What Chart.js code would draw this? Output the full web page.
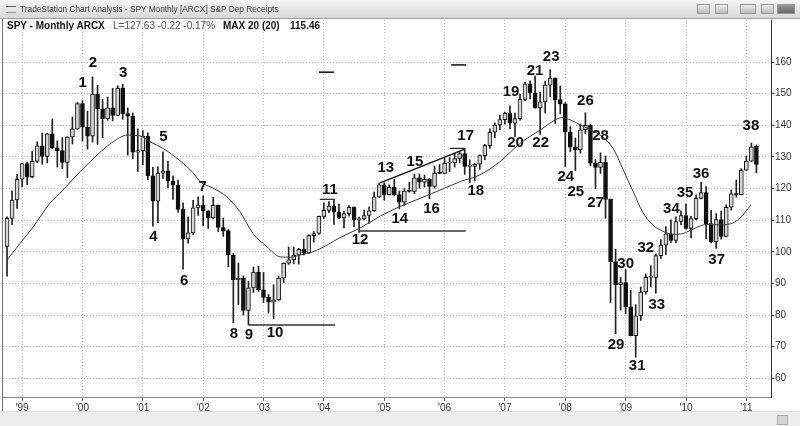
<!DOCTYPE html>
<html>
<head>
<meta charset="utf-8">
<script src="https://cdn.jsdelivr.net/npm/chart.js@4.4.1/dist/chart.umd.min.js"></script>
<style>
body { margin: 0; background: #fff; }
#wrap { position: relative; width: 800px; height: 426px; overflow: hidden; font-family: "Liberation Sans", Arial, sans-serif; }
#c { position: absolute; left: 0; top: 0; }
#titlebar { position: absolute; left: 0; top: 0; width: 800px; height: 18px; background: linear-gradient(#f5f5f5, #d8d8d8); border-bottom: 1px solid #a0a0a0; }
#titlebar .txt { position: absolute; left: 20px; top: 0; line-height: 18px; font-size: 8.3px; color: #333; }
#titlebar .ico { position: absolute; left: 6px; top: 6px; width: 10px; height: 5px; border-top: 1px solid #666; border-bottom: 1px solid #999; }
.btn { position: absolute; top: 4px; height: 10px; background: linear-gradient(#eee, #bbb); border: 1px solid #999; box-sizing: border-box; }
#legend span { position: absolute; top: 19px; line-height: 13px; font-size: 10px; color: #111; white-space: nowrap; }
#legend .b { font-weight: bold; }
#legend .r { color: #555; }
#leftedge { position: absolute; left: 2px; top: 19px; width: 1px; height: 392px; background: #777; }
#bottom { position: absolute; left: 0; top: 411px; width: 800px; height: 15px; background: #ededed; border-top: 1px solid #dcdcdc; }
#bottom .sb { position: absolute; left: 777px; top: 3px; width: 9px; height: 8px; background: #d6d6d6; border: 1px solid #aaa; }
</style>
</head>
<body>
<div id="wrap">
  <canvas id="c" width="800" height="426"></canvas>
  <div id="titlebar">
    <div class="ico"></div>
    <div class="txt">TradeStation Chart Analysis - SPY Monthly [ARCX] S&amp;P Dep Receipts</div>
    <div class="btn" style="left:697px;width:13px"></div>
    <div class="btn" style="left:715px;width:13px"></div>
    <div class="btn" style="left:740px;width:16px"></div>
    <div class="btn" style="left:761px;width:13px"></div>
    <div class="btn" style="left:777px;width:18px;background:linear-gradient(#999,#666)"></div>
  </div>
  <div id="legend">
    <span class="b" style="left:7px">SPY - Monthly ARCX</span>
    <span class="r" style="left:113px">L=127.63 -0.22 -0.17%</span>
    <span class="b" style="left:223px">MAX 20 (20)</span>
    <span class="b" style="left:290px">115.46</span>
  </div>
  <div id="leftedge"></div>
  <div id="bottom"><div class="sb"></div></div>
</div>
<script>
// SPY monthly bars, Oct 1998 .. Mar 2011 (index 0 = Oct 1998)
var opens = [101.7,110.6,116.4,123.0,127.9,123.8,128.6,133.5,130.2,137.3,
132.9,132.0,128.3,136.3,138.9,146.9,139.4,136.6,149.9,145.2,
142.1,145.5,143.1,151.8,143.7,142.9,131.5,132.0,136.6,124.0,
116.0,124.9,125.6,122.4,121.1,113.4,104.1,106.0,113.9,114.8,
113.0,110.7,114.7,107.7,106.7,99.0,91.2,91.6,81.5,88.6,
93.6,88.0,85.6,84.1,84.8,91.7,96.4,97.5,99.0,100.8,
99.6,105.1,105.8,111.2,113.1,114.5,112.6,110.7,112.1,114.1,
110.2,110.4,111.5,113.0,117.4,121.2,118.1,120.4,118.1,115.7,
119.2,119.1,123.4,122.0,122.9,120.7,124.9,124.8,128.0,128.1,
129.5,131.1,127.0,127.0,127.7,130.4,133.6,137.8,140.1,141.8,
143.8,140.7,142.1,148.2,153.1,150.3,145.5,147.4,152.7,154.9,
148.1,146.8,137.9,133.1,132.3,138.6,140.0,128.0,126.7,128.3,
116.6,96.9,89.6,90.3,82.6,73.5,79.8,87.3,91.9,91.9,
98.8,102.1,105.7,103.6,109.6,111.5,107.4,110.5,116.9,118.7,
108.9,103.1,110.2,104.9,114.1,118.3,118.1,125.8,128.7,133.4];

var highs = [111.1,119.3,124.5,128.0,128.4,131.7,134.8,137.6,137.5,142.0,
135.1,136.1,136.4,142.6,147.3,147.8,144.5,155.3,152.7,148.2,
148.9,151.7,152.5,153.0,145.5,143.9,138.9,138.3,137.6,126.7,
126.9,131.6,128.7,124.0,122.6,115.5,111.1,116.3,117.4,117.7,
113.0,117.3,114.8,110.7,107.1,99.5,96.5,92.4,90.7,95.2,
95.4,93.5,86.5,89.6,92.4,96.5,101.5,101.5,101.1,104.0,
105.4,106.4,111.3,115.5,115.9,116.3,115.1,112.8,114.6,114.2,
111.0,113.2,114.2,118.9,121.7,121.8,121.2,122.9,119.2,120.0,
122.0,124.5,124.6,124.3,123.3,127.1,127.6,129.5,129.8,131.1,
131.8,132.7,129.1,128.0,130.7,134.0,138.9,140.8,143.2,144.2,
146.2,143.9,149.8,153.6,154.1,155.6,150.4,153.9,157.6,155.0,
152.4,147.2,139.6,136.0,140.4,144.0,140.4,129.2,131.3,130.3,
116.7,100.8,91.9,94.4,87.8,83.3,88.9,93.0,95.6,99.3,
103.9,108.0,110.1,111.1,113.0,115.1,111.2,118.0,122.0,120.6,
113.1,112.1,112.9,114.9,119.6,122.7,126.3,130.3,134.4,133.8];

var lows = [92.3,108.6,113.7,120.6,121.2,123.4,128.2,127.7,128.1,132.6,
126.8,126.3,123.4,134.1,138.7,135.0,132.5,134.7,133.9,136.1,
141.6,141.4,143.0,141.9,130.6,129.5,125.4,127.5,122.8,108.1,
109.2,123.2,120.3,116.6,112.5,94.5,102.7,105.4,111.5,108.2,
107.4,110.4,106.4,104.9,95.3,77.6,83.3,80.0,76.9,87.2,
87.5,84.0,80.6,78.9,84.6,90.3,96.0,96.2,96.1,99.0,
99.5,103.1,105.5,110.5,112.4,108.7,110.5,107.6,111.3,107.9,
106.1,110.1,109.0,112.8,117.2,116.4,118.0,117.7,113.6,114.6,
118.8,118.4,120.1,120.5,116.8,120.1,124.7,124.6,125.4,126.8,
128.1,124.5,121.9,122.5,126.1,129.1,132.7,136.1,138.6,140.4,
138.9,136.4,141.6,147.7,148.4,145.4,137.1,143.9,149.0,140.6,
143.6,127.0,131.7,125.7,131.2,137.3,127.2,120.0,124.8,110.6,
84.0,74.1,81.6,80.4,73.4,66.7,78.3,86.6,88.9,86.9,
97.9,99.2,102.9,102.9,108.6,107.2,104.5,110.1,116.7,104.1,
102.8,101.1,104.0,104.8,113.2,117.3,118.0,125.7,128.6,125.0];

var closes = [110.6,116.4,122.9,127.9,123.8,128.6,133.5,130.2,137.3,132.9,
132.0,128.3,136.3,138.9,146.9,139.4,136.6,149.9,145.2,142.1,
145.5,143.1,151.8,143.7,142.9,131.5,132.0,136.6,124.0,116.0,
124.9,125.6,122.4,121.1,113.4,104.1,106.0,113.9,114.8,113.0,
110.7,114.7,107.7,106.7,99.0,91.2,91.6,81.5,88.6,93.6,
88.0,85.6,84.1,84.8,91.7,96.4,97.5,99.0,100.8,99.6,
105.1,105.8,111.2,113.1,114.5,112.6,110.7,112.1,114.1,110.2,
110.4,111.5,113.0,117.4,121.2,118.1,120.4,118.1,115.7,119.2,
119.1,123.4,122.0,122.9,120.7,124.9,124.8,128.0,128.1,129.5,
131.1,127.0,127.0,127.7,130.4,133.6,137.8,140.1,141.8,143.8,
140.7,142.1,148.2,153.1,150.3,145.5,147.4,152.7,154.9,148.1,
146.8,137.9,133.1,132.3,138.6,140.0,128.0,126.7,128.3,116.6,
96.9,89.6,90.3,82.6,73.5,79.8,87.3,91.9,91.9,98.8,
102.1,105.7,103.6,109.6,111.5,107.4,110.5,116.9,118.7,108.9,
103.1,110.2,104.9,114.1,118.3,118.1,125.8,128.7,133.2,127.6];

// 20 bar average (bar index, price)
var maIdx = [0,2.6,5.2,8.5,11.1,14.5,17.9,21.1,23.9,26.4,28.4,31,34.4,37,38.4,41,43.7,46.3,48.9,51.7,
54.3,56.3,58.3,60.8,63.6,66.2,70.2,74.2,78.1,82.1,86.1,90.1,94,98,102,106,109,110.3,112,114,
115.9,118.5,120.5,122.5,124.5,126.4,128.4,130.4,132.4,134.4,136.4,139.2,141.7,143.7,145.7,147.9];
var maVal = [97.4,102.7,107.9,115.3,119.5,125.3,130.6,134.8,136.9,136.7,134.8,132.7,128.8,125,122.2,120.1,117.4,112.7,105.8,101.6,
98.4,98.3,99,100,102.1,104.5,107.5,111.3,114.3,116.9,119.5,122.2,124.3,128.5,134.3,138.5,141.7,142.4,141.7,140.1,
138.7,136.2,132.7,126,119,112.5,108.5,106.5,105.5,105.8,107.2,108.7,108.5,108.8,110.6,114.8];

// x axis: year labels at the January bars
var yearIdx = [3,15,27,39,51,63,75,87,99,111,123,135,147];
var yearLabels = ["'99","'00","'01","'02","'03","'04","'05","'06","'07","'08","'09","'10","'11"];
var priceTicks = [60,70,80,90,100,110,120,130,140,150,160];

// wave count labels (bar index, price)
var waveNames = ['1','2','3','4','5','6','7','8','9','10','11','12','13','14','15','16','17','18','19',
'20','21','22','23','24','25','26','27','28','29','30','31','32','33','34','35','36','37','38'];
var waveIdx = [15.05,17.1,23.1,29.1,31.1,35.2,38.9,45.1,48.1,53.3,64.2,70.2,75.3,78.1,81.1,84.4,91.2,93.2,100.2,
101.1,105.0,106.1,108.2,111.1,113.1,115.0,117.0,118.0,121.1,123.0,125.3,127.0,129.2,132.1,134.8,138.0,141.1,147.9];
var wavePrice = [153.5,159.8,156.7,104.6,136.4,90.9,120.4,74.2,73.7,74.5,119.5,103.9,126.6,110.4,128.5,113.7,136.6,119.3,150.6,
134.5,157.3,134.5,161.5,123.7,119.0,147.7,115.5,136.6,70.5,96.1,64.0,101.4,83.2,113.5,118.5,124.8,97.6,139.8];

// drawn support / trend lines (bar index, price)
var line9 = [[48, 76.9], [65.2, 76.9]];
var line11 = [[62.2, 116.6], [65.2, 116.6]];
var line12 = [[70, 106.6], [91.2, 106.6]];
var trend1315 = [[74.2, 121.8], [90.9, 132.4]];
var line17 = [[88.1, 132.7], [90.9, 132.7]];
var dashA = [[62, 156.8], [65, 156.8]];
var dashB = [[88.3, 159.1], [91.3, 159.1]];

var FONT = '"Liberation Sans", Arial, sans-serif';

function seg(pts, color, width) {
  return {
    type: 'line',
    data: pts.map(function (p) { return { x: p[0], y: p[1] }; }),
    borderColor: color,
    borderWidth: width,
    pointRadius: 0,
    fill: false,
    tension: 0
  };
}

var bodies = opens.map(function (o, i) { return { x: i, y: [o, closes[i]] }; });
var wicks = lows.map(function (l, i) { return { x: i, y: [l, highs[i]] }; });
var bodyFill = opens.map(function (o, i) { return closes[i] >= o ? '#d6d6d6' : '#111'; });

var waveLabels = {
  id: 'waveLabels',
  afterDatasetsDraw: function (chart) {
    var ctx = chart.ctx, x = chart.scales.x, y = chart.scales.y;
    ctx.save();
    ctx.font = 'bold 15px ' + FONT;
    ctx.fillStyle = '#111';
    ctx.textAlign = 'center';
    ctx.textBaseline = 'middle';
    waveNames.forEach(function (t, k) {
      ctx.fillText(t, x.getPixelForValue(waveIdx[k]), y.getPixelForValue(wavePrice[k]));
    });
    ctx.restore();
  }
};

var ctx = document.getElementById('c').getContext('2d');
var chart = new Chart(ctx, {
  type: 'bar',
  data: {
    datasets: [
      seg(trend1315, '#111', 1.5),
      seg(line9, '#333', 1.5),
      seg(line11, '#222', 1.2),
      seg(line12, '#333', 1.5),
      seg(line17, '#222', 1.2),
      seg(dashA, '#111', 1.5),
      seg(dashB, '#111', 1.5),
      {
        type: 'line',
        data: maIdx.map(function (v, i) { return { x: v, y: maVal[i] }; }),
        borderColor: '#3a3a3a',
        borderWidth: 1,
        pointRadius: 0,
        fill: false,
        cubicInterpolationMode: 'monotone'
      },
      {
        data: bodies,
        backgroundColor: bodyFill,
        borderColor: '#111',
        borderWidth: 1,
        borderSkipped: false,
        barThickness: 4,
        minBarLength: 1,
        grouped: false
      },
      {
        data: wicks,
        backgroundColor: '#222',
        borderWidth: 0,
        barThickness: 1,
        grouped: false
      }
    ]
  },
  options: {
    responsive: false,
    animation: false,
    events: [],
    layout: { padding: { left: 3, top: 20, right: 0, bottom: 0 } },
    plugins: { legend: { display: false }, tooltip: { enabled: false } },
    scales: {
      x: {
        type: 'linear',
        min: -0.8,
        max: 151.9,
        offset: false,
        afterBuildTicks: function (s) { s.ticks = yearIdx.map(function (v) { return { value: v }; }); },
        afterFit: function (s) { s.height = 29; },
        ticks: {
          autoSkip: false,
          maxRotation: 0,
          padding: 1,
          color: '#333',
          font: { family: FONT, size: 10 },
          callback: function (v, i) { return yearLabels[i]; }
        },
        grid: { color: '#c6c6c6', tickColor: '#666', tickLength: 4, offset: false },
        border: { color: '#888', width: 1, dash: [1, 2] }
      },
      y: {
        position: 'right',
        min: 54.1,
        max: 173.3,
        afterBuildTicks: function (s) { s.ticks = priceTicks.map(function (v) { return { value: v }; }); },
        afterFit: function (s) { s.width = 29; },
        ticks: {
          padding: 1,
          color: '#333',
          font: { family: FONT, size: 10 }
        },
        grid: { color: '#c6c6c6', tickColor: '#444', tickLength: 3 },
        border: { color: '#333', width: 1, dash: [1, 2] }
      }
    }
  },
  plugins: [waveLabels]
});
</script>
</body>
</html>
